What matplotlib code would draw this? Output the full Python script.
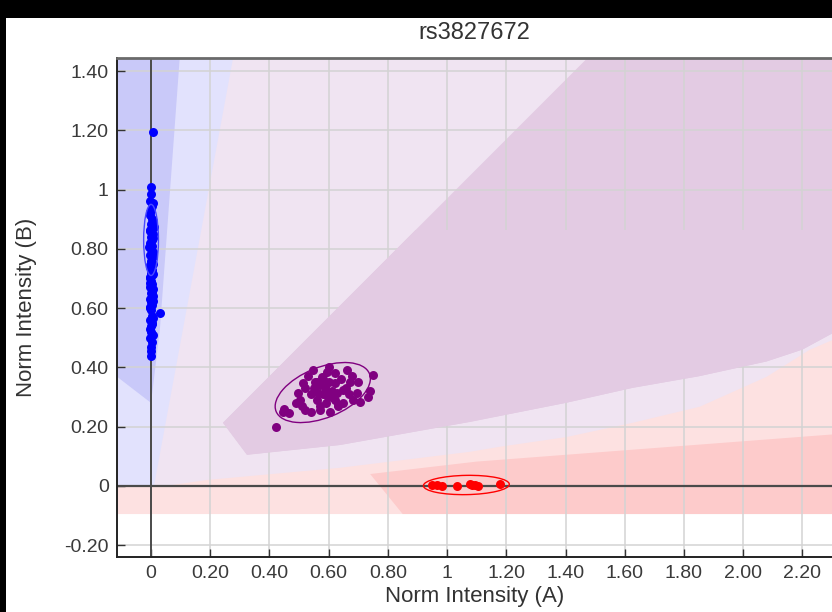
import matplotlib
matplotlib.use("Agg")
import matplotlib.pyplot as plt
from matplotlib.patches import Polygon, Ellipse, Rectangle

plt.rcParams['font.family'] = ['Liberation Sans', 'DejaVu Sans']

# ---------------- data ----------------
title = "rs3827672"
x_label = "Norm Intensity (A)"
y_label = "Norm Intensity (B)"

x_ticks = [0, 0.2, 0.4, 0.6, 0.8, 1.0, 1.2, 1.4, 1.6, 1.8, 2.0, 2.2]
x_tick_labels = ["0", "0.20", "0.40", "0.60", "0.80", "1", "1.20", "1.40", "1.60", "1.80", "2.00", "2.20"]
y_ticks = [-0.2, 0, 0.2, 0.4, 0.6, 0.8, 1.0, 1.2, 1.4]
y_tick_labels = ["-0.20", "0", "0.20", "0.40", "0.60", "0.80", "1", "1.20", "1.40"]

# BB cluster (blue)
blue_x = [0.005, 0.0, 0.0, -0.003, 0.002, 0.0, -0.004, 0.004, 0.0, 0.003, -0.002, 0.005, 0.0,
          0.002, -0.003, 0.004, 0.0, 0.006, -0.002, 0.003, 0.0, 0.005, -0.003, 0.002, 0.0, 0.004,
          -0.002, 0.0, 0.003, -0.004, 0.002, 0.0, 0.005, -0.002, 0.0, 0.003, -0.003, 0.0, 0.03,
          0.002, -0.002, 0.004, 0.0, 0.0, -0.003, 0.002, 0.0, 0.0, 0.0,
          0.007, -0.005, 0.006, -0.004, 0.008, -0.006, 0.005, -0.003, 0.007, -0.005, 0.004,
          0.006, -0.004, 0.008, 0.003, -0.002, 0.006, 0.01, -0.004, 0.005]
blue_y = [1.195, 1.01, 0.985, 0.96, 0.945, 0.93, 0.915, 0.90, 0.885, 0.87, 0.86, 0.85, 0.84,
          0.83, 0.82, 0.81, 0.80, 0.79, 0.78, 0.77, 0.76, 0.75, 0.74, 0.73, 0.72, 0.71,
          0.70, 0.69, 0.68, 0.67, 0.66, 0.65, 0.64, 0.63, 0.62, 0.61, 0.60, 0.595, 0.585,
          0.575, 0.56, 0.55, 0.54, 0.52, 0.50, 0.485, 0.47, 0.455, 0.44,
          0.955, 0.925, 0.895, 0.865, 0.835, 0.805, 0.775, 0.745, 0.715, 0.685, 0.655,
          0.625, 0.605, 0.565, 0.545, 0.53, 0.51, 0.875, 0.705, 0.665]

# AB cluster (purple)
purple_x = [0.422, 0.446, 0.466, 0.496, 0.503, 0.52, 0.513, 0.547, 0.553, 0.564, 0.57, 0.577,
            0.587, 0.597, 0.594, 0.604, 0.621, 0.628, 0.631, 0.648, 0.661, 0.672, 0.682, 0.695,
            0.705, 0.732, 0.749, 0.55, 0.57, 0.58, 0.60, 0.61, 0.59, 0.56, 0.54, 0.62, 0.64,
            0.53, 0.60, 0.57, 0.65, 0.66, 0.51, 0.49, 0.68, 0.62, 0.54, 0.70, 0.58, 0.63, 0.45,
            0.59, 0.61, 0.56, 0.67, 0.52, 0.74]
purple_y = [0.199, 0.25, 0.246, 0.314, 0.29, 0.256, 0.347, 0.39, 0.35, 0.314, 0.256, 0.368,
            0.334, 0.30, 0.385, 0.25, 0.347, 0.314, 0.273, 0.324, 0.39, 0.35, 0.29, 0.314,
            0.284, 0.30, 0.375, 0.33, 0.34, 0.31, 0.35, 0.32, 0.28, 0.29, 0.31, 0.29, 0.36,
            0.37, 0.40, 0.27, 0.28, 0.33, 0.27, 0.28, 0.37, 0.38, 0.25, 0.35, 0.36, 0.27, 0.26,
            0.32, 0.30, 0.35, 0.31, 0.33, 0.32]

# AA cluster (red)
red_x = [0.95, 0.966, 0.983, 1.033, 1.077, 1.085, 1.095, 1.105, 1.178]
red_y = [0.004, 0.002, 0.0, 0.0, 0.005, 0.003, 0.002, 0.0, 0.006]

# cluster ellipses: (cx, cy, width, height, angle)
blue_ellipse = (0.0, 0.83, 0.05, 0.24, 0)
purple_ellipse = (0.58, 0.315, 0.34, 0.17, 22)
red_ellipse = (1.065, 0.003, 0.29, 0.065, 1)

# call regions (polygon vertices)
lavender_region = [(-0.13, 0.0), (2.32, 0.0), (2.32, 1.46), (-0.13, 1.46)]
lightblue_region = [(-0.13, 0.0), (0.01, 0.0), (0.28, 1.46), (-0.13, 1.46)]
darkblue_region = [(-0.13, 1.46), (0.098, 1.46), (0.03, 0.53), (0.0, 0.28), (-0.13, 0.38)]
purple_region = [(0.243, 0.213), (0.324, 0.105), (0.638, 0.138), (1.077, 0.216), (1.4, 0.28),
                 (1.627, 0.331), (1.85, 0.37), (2.079, 0.42), (2.2, 0.46), (2.32, 0.525),
                 (2.32, 1.46), (1.49, 1.46)]
lightpink_region = [(-0.13, -0.095), (2.32, -0.095), (2.32, 0.50), (2.224, 0.459), (2.079, 0.368),
                    (1.853, 0.267), (1.627, 0.213), (1.404, 0.165), (1.178, 0.132), (1.077, 0.115),
                    (0.638, 0.061), (0.189, 0.02), (0.05, 0.0), (-0.13, 0.0)]
darkpink_region = [(0.74, 0.04), (0.85, -0.095), (2.32, -0.095), (2.32, 0.175), (1.1, 0.082)]

# ---------------- figure ----------------
W, H = 832, 612
fig = plt.figure(figsize=(W / 100, H / 100), dpi=100)
fig.patch.set_facecolor('white')

ax_l, ax_t, ax_b, ax_r = 117, 58, 557, 832
ax = fig.add_axes([ax_l / W, 1 - ax_b / H, (ax_r - ax_l) / W, (ax_b - ax_t) / H])
ax.set_xlim(-0.115, 2.30)
ax.set_ylim(-0.24, 1.444)
ax.set_axisbelow(True)

def add_region(pts, color, z=0.2):
    p = Polygon(pts, closed=True, facecolor=color, edgecolor='none', zorder=z)
    ax.add_patch(p)
    return p

add_region(lavender_region, '#f0e4f2')
add_region(lightblue_region, '#e2e2fd')
add_region(darkblue_region, '#c9c9f9')
add_region(purple_region, '#e3cbe3')
# lower part of purple region hides the grid
pp = add_region(purple_region, '#e3cbe3', z=0.8)
pp.set_clip_path(Rectangle((-0.2, -0.3), 3.0, 1.165, transform=ax.transData))
add_region(lightpink_region, '#fde1e1')
add_region(darkpink_region, '#fdcbcb')

# grid
ax.set_xticks(x_ticks)
ax.set_xticklabels(x_tick_labels)
ax.set_yticks(y_ticks)
ax.set_yticklabels(y_tick_labels)
ax.grid(True, color='#d3d3d3', linewidth=1.1)

# zero axes
ax.axhline(0, color='#4a4a4a', linewidth=1.6, zorder=1.5)
ax.axvline(0, color='#4a4a4a', linewidth=1.4, zorder=1.5)

# clusters
ms = 42
ax.scatter(blue_x, blue_y, s=ms, color='#0000ff', zorder=3, linewidths=0)
ax.scatter(purple_x, purple_y, s=ms, color='#800080', zorder=3, linewidths=0)
ax.scatter(red_x, red_y, s=ms, color='#ff0000', zorder=3, linewidths=0)

for (cx, cy, w, h, a), c in [(blue_ellipse, '#4a4aff'), (purple_ellipse, '#800080'),
                             (red_ellipse, '#ff0000')]:
    ax.add_patch(Ellipse((cx, cy), w, h, angle=a, facecolor='none', edgecolor=c,
                         linewidth=1.0, zorder=3.5))

# ticks & spines
ax.tick_params(direction='in', length=6, width=1, color='#333333', labelcolor='#3a3a3a',
               labelsize=14, pad=6)
ax.tick_params(axis='x', pad=6)
for s in ['left', 'bottom']:
    ax.spines[s].set_color('#222222')
    ax.spines[s].set_linewidth(1.4)
ax.spines['top'].set_color('#6a6a6a')
ax.spines['top'].set_linewidth(2)
ax.spines['right'].set_visible(False)

ax.set_xlabel(x_label, fontsize=16, color='#333333', va='top')
ax.xaxis.set_label_coords(0.5, -0.058)
ax.set_ylabel(y_label, fontsize=16, color='#333333', va='center')
ax.yaxis.set_label_coords(-0.126, 0.5)

fig.text(474 / W, 1 - 33 / H, title, ha='center', va='center', fontsize=17, color='#333333')

# black frame of the screenshot
fig.patches.append(Rectangle((0, 1 - 18 / H), 1, 18 / H, transform=fig.transFigure,
                             facecolor='black', edgecolor='none', zorder=10))
fig.patches.append(Rectangle((0, 0), 6 / W, 1, transform=fig.transFigure,
                             facecolor='black', edgecolor='none', zorder=10))

fig.savefig('out.png', dpi=100, facecolor='white')
